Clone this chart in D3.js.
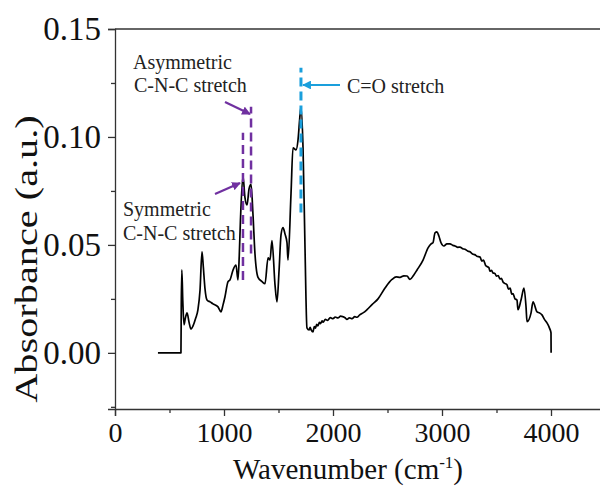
<!DOCTYPE html>
<html>
<head>
<meta charset="utf-8">
<script src="https://cdn.jsdelivr.net/npm/d3@7"></script>
<style>
  body { margin: 0; background: #fff; }
  svg { display: block; font-family: "Liberation Serif", "Times New Roman", serif; }
</style>
</head>
<body>
<div id="chart"></div>
<script>
// spectrum
var wavenumber = [394, 605, 608, 613, 622, 633, 645, 661, 680, 697, 716, 740, 761, 780, 798, 810, 825, 844, 872, 899,
  945, 972, 990, 1009, 1037, 1055, 1083, 1110, 1128, 1140, 1151, 1174, 1192, 1211, 1230, 1248, 1266, 1284, 1312, 1349,
  1376, 1404, 1422, 1440, 1468, 1486, 1505, 1523, 1541, 1560, 1578, 1587, 1615, 1633, 1661, 1679, 1694, 1706, 1725, 1743,
  1761, 1780, 1790, 1800, 1817, 1828, 1840, 1850, 1862, 1875, 1885, 1900, 1908, 1930, 1950, 1975, 2000, 2020, 2045, 2070,
  2092, 2110, 2128, 2150, 2175, 2200, 2220, 2245, 2265, 2290, 2312, 2360, 2413, 2477, 2541, 2580, 2615, 2650, 2679, 2706,
  2740, 2771, 2826, 2872, 2900, 2917, 2936, 2954, 2972, 2991, 3018, 3045, 3073, 3100, 3120, 3145, 3165, 3190, 3210, 3235,
  3257, 3280, 3300, 3320, 3349, 3365, 3380, 3400, 3413, 3430, 3440, 3455, 3468, 3485, 3500, 3515, 3532, 3545, 3560, 3575,
  3596, 3610, 3625, 3640, 3651, 3670, 3688, 3697, 3725, 3752, 3771, 3780, 3817, 3835, 3872, 3895, 3917, 3940, 3963, 3990,
  4000, 4001];
var absorbance = [0, 0, 0.022, 0.0384, 0.024, 0.013, 0.016, 0.0185, 0.014, 0.011, 0.0125, 0.016, 0.020, 0.029, 0.0468, 0.040, 0.030, 0.0245, 0.0236, 0.0227,
  0.0213, 0.019, 0.022, 0.026, 0.033, 0.0338, 0.0384, 0.0407, 0.0338, 0.045, 0.0616, 0.082, 0.072, 0.0685, 0.076, 0.078, 0.064, 0.046, 0.035, 0.033,
  0.032, 0.044, 0.043, 0.052, 0.0315, 0.0236, 0.038, 0.0546, 0.058, 0.055, 0.051, 0.043, 0.074, 0.095, 0.094, 0.0986, 0.108, 0.114, 0.095, 0.049,
  0.0116, 0.0106, 0.0118, 0.0106, 0.0097, 0.0122, 0.0115, 0.0132, 0.0125, 0.0141, 0.0135, 0.0148, 0.0142, 0.0155, 0.015, 0.0163, 0.0158, 0.0166, 0.0162, 0.017,
  0.0167, 0.0163, 0.0155, 0.0162, 0.0158, 0.0168, 0.0165, 0.0176, 0.0182, 0.019, 0.020, 0.0225, 0.025, 0.030, 0.034, 0.0352, 0.035, 0.0357, 0.0356, 0.034,
  0.036, 0.0384, 0.043, 0.0486, 0.0505, 0.051, 0.0556, 0.056, 0.054, 0.051, 0.0495, 0.0505, 0.0505, 0.0498, 0.0495, 0.0489, 0.049, 0.0482, 0.048, 0.0472,
  0.0468, 0.0458, 0.0455, 0.0448, 0.0444, 0.0425, 0.043, 0.0405, 0.040, 0.0395, 0.0378, 0.0382, 0.037, 0.0368, 0.0355, 0.0358, 0.0342, 0.0345, 0.0328, 0.0322,
  0.0315, 0.0295, 0.030, 0.0272, 0.0275, 0.025, 0.0245, 0.020, 0.0245, 0.030, 0.0213, 0.0144, 0.0185, 0.0236, 0.019, 0.0185, 0.0176, 0.0155, 0.0139, 0.011,
  0.0093, 0];

var xTicks = [0, 1000, 2000, 3000, 4000];
var xMinor = [500, 1500, 2500, 3500, 4500];
var yTicks = [0.00, 0.05, 0.10, 0.15];
var yMinor = [-0.025, 0.025, 0.075, 0.125];

// marker lines: [wavenumber, from, to]
var cncMarks = [[1174, 0.0338, 0.102], [1248, 0.046, 0.114]];
var coMark = [1706, 0.065, 0.132];

var W = 600, H = 491;
var margin = { top: 29, left: 115 };
var plotH = 380;

var svg = d3.select("#chart").append("svg")
    .attr("width", W)
    .attr("height", H);

var x = d3.scaleLinear().domain([0, 4500]).range([margin.left, margin.left + 490.5]);
var y = d3.scaleLinear().domain([-0.026, 0.15]).range([margin.top + plotH, margin.top]);

// frame top line (right side is cut off by the picture)
svg.append("line")
    .attr("x1", x(0)).attr("x2", x(4500))
    .attr("y1", y(0.15)).attr("y2", y(0.15))
    .attr("stroke", "#333").attr("stroke-width", 1.3);

// X axis
var xAxis = svg.append("g")
    .attr("transform", "translate(0," + y(-0.026) + ")")
    .call(d3.axisBottom(x).tickValues(xTicks).tickSize(7).tickPadding(6).tickFormat(d3.format("d")));
svg.append("g")
    .attr("transform", "translate(0," + y(-0.026) + ")")
    .call(d3.axisBottom(x).tickValues(xMinor).tickSize(4).tickFormat(""))
    .select(".domain").remove();

// Y axis
var yAxis = svg.append("g")
    .attr("transform", "translate(" + x(0) + ",0)")
    .call(d3.axisLeft(y).tickValues(yTicks).tickSize(7).tickPadding(7).tickFormat(d3.format(".2f")));
svg.append("g")
    .attr("transform", "translate(" + x(0) + ",0)")
    .call(d3.axisLeft(y).tickValues(yMinor).tickSize(4).tickFormat(""))
    .select(".domain").remove();

svg.selectAll(".domain, .tick line").attr("stroke", "#333").attr("stroke-width", 1.3);
xAxis.selectAll(".tick text").attr("font-size", 28).attr("font-family", "Liberation Serif").attr("fill", "#111");
yAxis.selectAll(".tick text").attr("font-size", 33).attr("font-family", "Liberation Serif").attr("fill", "#111");

// axis titles
var xt = svg.append("text")
    .attr("x", 348).attr("y", 479)
    .attr("text-anchor", "middle")
    .attr("font-size", 29)
    .attr("fill", "#111");
xt.append("tspan").text("Wavenumber (cm");
xt.append("tspan").attr("dy", -11).attr("font-size", 17).text("-1");
xt.append("tspan").attr("dy", 11).text(")");

// y title, drawn a bit stretched along its length like the picture
svg.append("text")
    .attr("transform", "translate(37,259) rotate(-90) scale(1.3,1)")
    .attr("text-anchor", "middle")
    .attr("font-size", 31)
    .attr("fill", "#111")
    .text("Absorbance (a.u.)");

// spectrum
var line = d3.line()
    .x(function (d, i) { return x(wavenumber[i]); })
    .y(function (d) { return y(d); })
    .curve(d3.curveMonotoneX);

svg.append("path")
    .datum(absorbance)
    .attr("d", line)
    .attr("fill", "none")
    .attr("stroke", "#000")
    .attr("stroke-width", 1.7)
    .attr("stroke-linejoin", "round");

// markers
var purple = "#7030a0", blue = "#1a9fdc";
var defs = svg.append("defs");
function arrowHead(id, color) {
  defs.append("marker")
      .attr("id", id)
      .attr("viewBox", "0 0 10 10")
      .attr("refX", 9).attr("refY", 5)
      .attr("markerWidth", 4).attr("markerHeight", 4)
      .attr("orient", "auto")
      .append("path").attr("d", "M0,0 L10,5 L0,10 z").attr("fill", color);
}
arrowHead("ap", purple);
arrowHead("ab", blue);

svg.selectAll(".cnc")
    .data(cncMarks)
    .enter().append("line")
    .attr("x1", function (d) { return x(d[0]); })
    .attr("x2", function (d) { return x(d[0]); })
    .attr("y1", function (d) { return y(d[1]); })
    .attr("y2", function (d) { return y(d[2]); })
    .attr("stroke", purple)
    .attr("stroke-width", 2.5)
    .attr("stroke-dasharray", "9,5");

svg.append("line")
    .attr("x1", x(coMark[0])).attr("x2", x(coMark[0]))
    .attr("y1", y(coMark[1])).attr("y2", y(coMark[2]))
    .attr("stroke", blue)
    .attr("stroke-width", 3)
    .attr("stroke-dasharray", "9,5");

// arrows
svg.append("line")
    .attr("x1", 225).attr("y1", 102).attr("x2", 250).attr("y2", 114)
    .attr("stroke", purple).attr("stroke-width", 2.2).attr("marker-end", "url(#ap)");
svg.append("line")
    .attr("x1", 215).attr("y1", 194).attr("x2", 240).attr("y2", 183)
    .attr("stroke", purple).attr("stroke-width", 2.2).attr("marker-end", "url(#ap)");
svg.append("line")
    .attr("x1", 340).attr("y1", 85).attr("x2", 303).attr("y2", 85)
    .attr("stroke", blue).attr("stroke-width", 2.2).attr("marker-end", "url(#ab)");

// labels
var notes = svg.append("g").attr("font-size", 20).attr("fill", "#222");
notes.append("text").attr("x", 133).attr("y", 69).text("Asymmetric");
notes.append("text").attr("x", 134).attr("y", 92).text("C-N-C stretch");
notes.append("text").attr("x", 123).attr("y", 216).text("Symmetric");
notes.append("text").attr("x", 123).attr("y", 240).text("C-N-C stretch");
notes.append("text").attr("x", 347).attr("y", 93).text("C=O stretch");
</script>
</body>
</html>
